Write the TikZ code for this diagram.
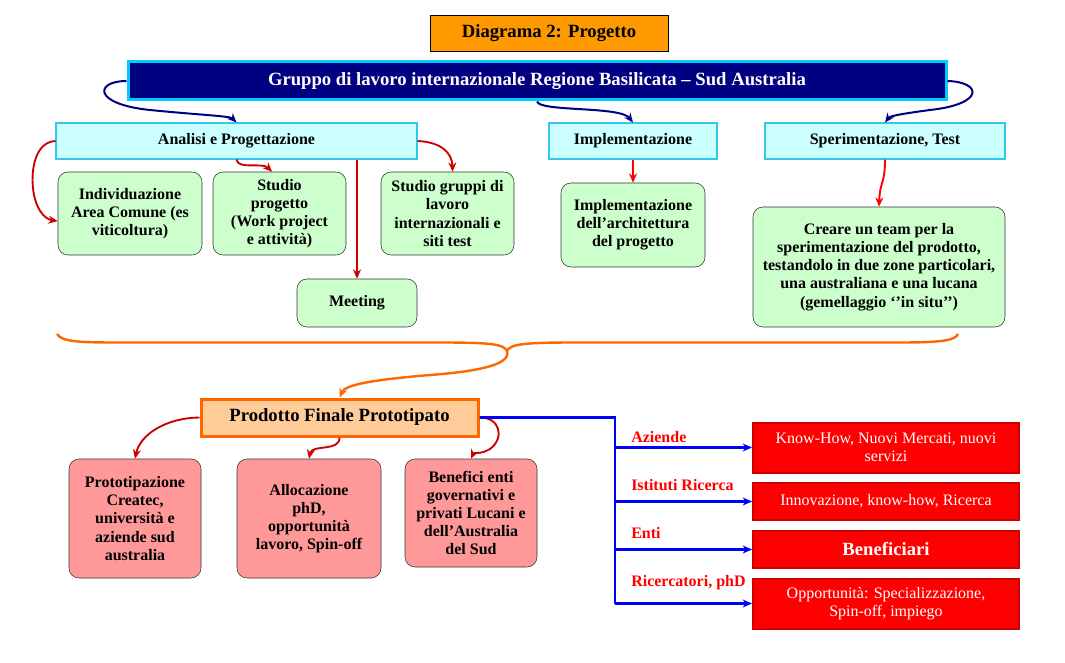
\documentclass[tikz,border=0pt]{standalone}
\usepackage{fontspec}
\setmainfont{Liberation Serif}
\usetikzlibrary{arrows.meta}
\definecolor{titleorange}{HTML}{FF9900}
\definecolor{groupnavy}{HTML}{000080}
\definecolor{groupcyan}{HTML}{00CCFF}
\definecolor{phasefill}{HTML}{CCFFFF}
\definecolor{phaseline}{HTML}{33C6EE}
\definecolor{taskfill}{HTML}{CCFFCC}
\definecolor{resultfill}{HTML}{FF9999}
\definecolor{prodfill}{HTML}{FFCC99}
\definecolor{prodline}{HTML}{FF6600}
\definecolor{targetline}{HTML}{CC0000}
\definecolor{arrowred}{HTML}{CC0000}
\tikzset{basic/.style={draw,align=center,inner sep=2pt,
                       font=\fontsize{12}{13.6}\selectfont\bfseries}}
\tikzset{heading/.style={basic,font=\fontsize{14}{16}\selectfont\bfseries}}
\tikzset{phase/.style={basic,fill=phasefill,draw=phaseline,thick,minimum height=27pt}}
\tikzset{task/.style={basic,rounded corners=7.5pt,fill=taskfill,draw=black!80}}
\tikzset{result/.style={basic,rounded corners=7.5pt,fill=resultfill,draw=black!80}}
\tikzset{target/.style={basic,fill=red,draw=targetline,line width=1.5pt,text=white,
                        minimum width=199.5pt,font=\fontsize{12}{13.6}\selectfont}}
\tikzset{tag/.style={anchor=base west,inner sep=0pt,text=red,
                     font=\fontsize{12}{13.6}\selectfont\bfseries}}
\tikzset{navyarrow/.style={->,draw=groupnavy,line width=1.5pt}}
\tikzset{redarrow/.style={->,draw=arrowred,line width=1.4pt}}
\tikzset{brightarrow/.style={->,draw=red,line width=1.4pt}}
\tikzset{brace/.style={draw=prodline,line width=1.8pt}}
\tikzset{busline/.style={draw=blue,line width=2.2pt}}

\begin{document}
\begin{tikzpicture}[x=0.75pt,y=-0.75pt,>={Stealth[length=7pt,width=6pt]}]
    \useasboundingbox (0,0) rectangle (1065,663);
    % Top
    \node[heading,fill=titleorange,minimum width=178.5pt,minimum height=27pt] (title) at (549,33) {Diagrama 2: Progetto};
    \node[heading,fill=groupnavy,draw=groupcyan,line width=2.25pt,text=white,
          minimum width=613.5pt,minimum height=28.5pt] (group) at (537,81)
          {Gruppo di lavoro internazionale Regione Basilicata – Sud Australia};
    \node[phase,minimum width=270.75pt] (anal) at (236.5,141) {Analisi e Progettazione};
    \node[phase,minimum width=126pt] (impl) at (633,141) {Implementazione};
    \node[phase,minimum width=180pt] (spe) at (885,141) {Sperimentazione, Test};
    % Tasks
    \node[task,minimum width=108pt,minimum height=62.25pt] (indiv) at (130,213.5)
          {Individuazione\\Area Comune (es\\viticoltura)};
    \node[task,minimum width=99.75pt,minimum height=62.25pt] (stud) at (279.5,213.5)
          {Studio\\progetto\\(Work project\\e attività)};
    \node[task,minimum width=99.75pt,minimum height=62.25pt] (grup) at (447.5,213.5)
          {Studio gruppi di\\lavoro\\internazionali e\\siti test};
    \node[task,minimum width=90pt,minimum height=36pt] (meet) at (357,303) {Meeting};
    \node[task,minimum width=108pt,minimum height=63pt] (arch) at (633,225)
          {Implementazione\\dell’architettura\\del progetto};
    \node[task,minimum width=189pt,minimum height=90pt] (team) at (879,267)
          {Creare un team per la\\sperimentazione del prodotto,\\testandolo in due zone particolari,\\una australiana e una lucana\\(gemellaggio ‘{}’in situ’{}’)};
    \draw[navyarrow] (group.west) .. controls (95,81) and (92,104) .. (150,110)
                     .. controls (200,115) and (230,116) .. (anal.north);
    \draw[navyarrow] (group.south) .. controls (540,112) and (620,106) .. (impl.north);
    \draw[navyarrow] (group.east) .. controls (982,82) and (985,104) .. (930,110)
                     .. controls (900,114) and (890,116) .. (spe.north);
    \draw[redarrow] (anal.west) .. controls (35,142) and (31,170) .. (33,188)
                    .. controls (35,208) and (44,219) .. (indiv.186);
    \draw[redarrow] (anal.south) .. controls (238,170) and (262,162) .. (stud.100);
    \draw[redarrow] (anal.south -| meet.north) -- (meet.north);
    \draw[redarrow] (anal.east) .. controls (440,142) and (452,152) .. (grup.83);
    \draw[brightarrow] (impl.south) -- (arch.north);
    \draw[brightarrow] (spe.south) .. controls (885,185) and (880,180) .. (team.north);
    % Brace
    \coordinate (tip) at (507,351);
    \draw[brace] (57,334) .. controls (62,342) and (80,342.5) .. (120,342.5) -- (440,342.5)
                 .. controls (490,342.5) and (504,344) .. (tip)
                 .. controls (510,344) and (525,342.5) .. (575,342.5) -- (900,342.5)
                 .. controls (945,342.5) and (955,340) .. (958,334);
    % Product
    \node[heading,fill=prodfill,draw=prodline,line width=2.25pt,
          minimum width=207.75pt,minimum height=27.75pt] (prod) at (339.5,417.5)
          {Prodotto Finale Prototipato};
    \draw[brace,->] (tip) .. controls (512,366) and (470,372) .. (430,375)
                    .. controls (370,380) and (345,385) .. (prod.north);
    \node[result,minimum width=99pt,minimum height=89.25pt] (proto) at (135,518.5)
          {Prototipazione\\Createc,\\università e\\aziende sud\\australia};
    \node[result,minimum width=108pt,minimum height=89.25pt] (alloc) at (309,518.5)
          {Allocazione\\phD,\\opportunità\\lavoro, Spin-off};
    \node[result,minimum width=99pt,minimum height=81pt] (benef) at (471,513)
          {Benefici enti\\governativi e\\privati Lucani e\\dell’Australia\\del Sud};
    \draw[redarrow] (prod.west) .. controls (165,418) and (140,435) .. (proto.north);
    \draw[redarrow] (prod.south) .. controls (340,452) and (312,444) .. (alloc.north);
    \draw[redarrow] (prod.east) .. controls (500,417) and (505,438) .. (490,449)
                    .. controls (480,455) and (474,452) .. (benef.north);
    % Beneficiaries
    \node[target,minimum height=37.5pt] (r1) at (886,447.5) {Know-How, Nuovi Mercati, nuovi\\servizi};
    \node[target,minimum height=27.75pt] (r2) at (886,501.5) {Innovazione, know-how, Ricerca};
    \node[target,minimum height=27.75pt,font=\fontsize{14}{16}\selectfont\bfseries] (r3) at (886,549.5) {Beneficiari};
    \node[target,minimum height=37.5pt] (r4) at (886,603.5) {Opportunità: Specializzazione,\\Spin-off, impiego};
    \coordinate (bus) at (615,0);
    \draw[busline] (prod.east) -- (prod.east -| bus) -- (bus |- r4.west);
    \foreach \i in {1,...,4}{%
          \draw[busline,->] (bus |- r\i.west) -- (r\i.west);
        }
    % Labels
    \node[tag] (tag1) at (631,442.5) {Aziende};
    \node[tag] (tag2) at (631,490.5) {Istituti Ricerca};
    \node[tag] (tag3) at (631,538) {Enti};
    \node[tag] (tag4) at (631,586.5) {Ricercatori, phD};
\end{tikzpicture}
\end{document}
